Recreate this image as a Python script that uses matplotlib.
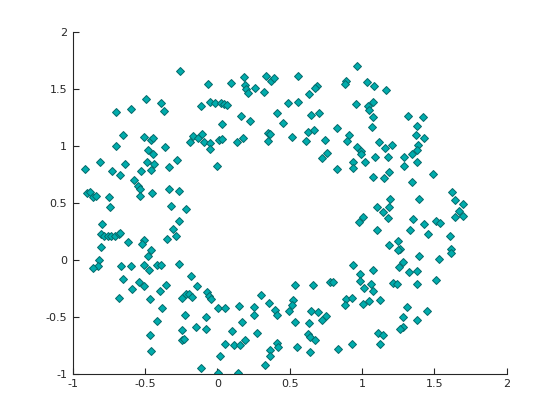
import matplotlib
matplotlib.use("Agg")
import matplotlib.pyplot as plt

# point cloud (ring of samples)
xs = [
    -0.257, -0.493, -0.390, -0.597, -0.701, -0.369, -0.652, -0.507, -0.461, -0.445,
    -0.701, -0.362, -0.480, -0.445, -0.811, -0.638, -0.489, -0.438, -0.281, -0.334,
    -0.917, -0.728, -0.527, -0.461, -0.673, -0.576, -0.549, -0.535, -0.452, -0.535,
    -0.334, -0.267, -0.901, -0.878, -0.860, -0.841, -0.749, -0.742, -0.323, -0.797,
    -0.267, -0.307, -0.286, -0.348, -0.806, -0.784, -0.760, -0.733, -0.705, -0.684,
    -0.675, -0.618, -0.507, -0.523, -0.804, -0.459, -0.480, -0.818, -0.829, -0.860,
    -0.666, -0.597, -0.507, -0.473, -0.417, -0.387, -0.267, -0.217, -0.184, -0.652,
    -0.542, -0.507, -0.590, -0.355, -0.399, -0.680, -0.466, -0.383, -0.417, -0.466,
    -0.459, -0.141, -0.242, -0.219, -0.196, -0.173, -0.072, -0.058, -0.044, 0.004,
    0.053, 0.149, 0.302, 0.357, 0.253, 0.398, 0.412, -0.224, -0.079, 0.253,
    0.170, -0.148, -0.079, -0.247, 0.101, 0.274, -0.242, -0.228, 0.053, 0.115,
    0.156, 0.191, 0.412, 0.419, 0.364, 0.362, 0.018, 0.329, -0.113, 0.004,
    0.143, -0.065, 0.094, 0.184, 0.336, 0.367, 0.394, 0.191, 0.198, 0.208,
    0.260, 0.325, -0.113, -0.051, -0.016, 0.025, 0.042, 0.069, 0.410, 0.163,
    0.226, 0.032, -0.193, -0.168, -0.134, -0.106, -0.092, -0.051, -0.051, 0.011,
    0.032, 0.136, 0.177, 0.350, 0.362, 0.350, -0.003, 0.965, 0.557, 0.689,
    0.671, 0.633, 0.889, 0.882, 1.034, 1.083, 0.488, 0.557, 0.958, 1.041,
    1.048, 1.076, 0.647, 0.702, 1.076, 0.454, 0.827, 1.069, 0.516, 0.626,
    0.668, 0.910, 0.896, 0.744, 0.613, 1.115, 0.965, 0.993, 0.993, 0.758,
    0.723, 1.089, 1.020, 0.937, 0.937, 0.827, 1.076, 1.106, 1.007, 0.979,
    1.101, 0.937, 0.984, 1.076, 0.537, 0.661, 0.776, 0.797, 0.986, 1.060,
    1.013, 1.076, 0.523, 0.516, 0.495, 0.889, 0.928, 0.880, 1.007, 1.048,
    1.122, 0.647, 0.698, 0.751, 0.726, 0.537, 0.633, 0.624, 0.638, 0.675,
    0.550, 0.640, 0.834, 0.931, 1.108, 1.143, 1.122, 1.214, 1.242, 1.380,
    1.511, 1.311, 1.449, 1.281, 1.380, 1.283, 1.262, 1.186, 1.152, 1.490,
    1.345, 1.622, 1.394, 1.193, 1.642, 1.698, 1.186, 1.145, 1.670, 1.698,
    1.642, 1.179, 1.352, 1.428, 1.511, 1.539, 1.331, 1.456, 1.608, 1.248,
    1.186, 1.262, 1.248, 1.615, 1.615, 1.394, 1.532, 1.283, 1.255, 1.325,
    1.380, 1.166, 1.318, 1.421, 1.380, 1.373, 1.428, 1.159, 1.207, 1.387,
    1.380, 1.345, 1.179, 1.290, 1.380, 1.290,
]
ys = [
    1.655, 1.411, 1.376, 1.324, 1.298, 1.306, 1.097, 1.079, 1.053, 1.064,
    1.000, 0.992, 0.959, 0.922, 0.852, 0.843, 0.854, 0.837, 0.872, 0.811,
    0.799, 0.780, 0.776, 0.790, 0.741, 0.697, 0.644, 0.624, 0.581, 0.557,
    0.616, 0.601, 0.581, 0.592, 0.551, 0.557, 0.546, 0.458, 0.469, 0.312,
    0.338, 0.266, 0.207, 0.178, 0.222, 0.210, 0.210, 0.210, 0.210, 0.222,
    0.236, 0.152, 0.169, 0.134, 0.113, 0.082, 0.030, -0.003, -0.053, -0.070,
    -0.058, -0.058, -0.049, -0.090, -0.049, -0.049, -0.042, 0.441, -0.143, -0.169,
    -0.195, -0.233, -0.259, -0.221, -0.277, -0.338, -0.347, -0.425, -0.539, -0.661,
    -0.801, -0.233, -0.333, -0.303, -0.303, -0.324, -0.285, -0.315, -0.341, -0.423,
    -0.423, -0.408, -0.312, -0.379, -0.417, -0.443, -0.484, -0.487, -0.504, -0.487,
    -0.548, -0.591, -0.609, -0.615, -0.626, -0.644, -0.705, -0.691, -0.740, -0.749,
    -0.749, -0.702, -0.731, -0.764, -0.793, -0.845, -0.845, -0.924, -0.950, -0.994,
    -0.994, 1.543, 1.551, 1.598, 1.606, 1.565, 1.589, 1.528, 1.493, 1.460,
    1.508, 1.473, 1.350, 1.385, 1.376, 1.376, 1.368, 1.359, 1.289, 1.263,
    1.219, 1.193, 1.029, 1.088, 1.070, 1.099, 1.029, 1.020, 0.974, 1.053,
    1.062, 1.035, 1.070, 1.114, 1.105, 1.044, 0.817, 1.700, 1.606, 1.522,
    1.508, 1.455, 1.563, 1.536, 1.560, 1.519, 1.376, 1.385, 1.368, 1.344,
    1.315, 1.385, 1.271, 1.289, 1.254, 1.201, 1.158, 1.166, 1.079, 1.123,
    1.140, 1.097, 1.044, 1.053, 1.044, 1.029, 0.992, 0.950, 0.922, 0.939,
    0.887, 0.904, 0.852, 0.854, 0.802, 0.793, 0.729, 0.458, 0.373, 0.327,
    0.257, -0.049, -0.125, -0.093, -0.224, -0.224, -0.198, -0.195, -0.187, -0.215,
    -0.250, -0.274, -0.355, -0.399, -0.449, -0.347, -0.338, -0.399, -0.390, -0.364,
    -0.355, -0.449, -0.460, -0.495, -0.530, -0.548, -0.556, -0.653, -0.679, -0.705,
    -0.766, -0.810, -0.784, -0.740, -0.644, -0.661, -0.740, -0.204, -0.213, -0.215,
    -0.180, -0.417, -0.449, -0.504, -0.530, -0.591, -0.604, 0.767, 0.712, 0.747,
    0.677, 0.589, 0.528, 0.528, 0.519, 0.484, 0.458, 0.414, 0.423, 0.379,
    0.371, 0.362, 0.353, 0.309, 0.336, 0.318, 0.257, 0.222, 0.204, 0.161,
    0.126, 0.091, 0.082, 0.091, 0.056, 0.030, 0.003, -0.023, -0.067, -0.105,
    -0.096, 1.490, 1.263, 1.254, 1.175, 1.097, 1.070, 0.983, 1.009, 1.009,
    0.965, 0.930, 0.904, 0.904, 0.852, 0.825,
]

x_ticks = [-1, -0.5, 0, 0.5, 1, 1.5, 2]
y_ticks = [-1, -0.5, 0, 0.5, 1, 1.5, 2]

fig = plt.figure(figsize=(5.6, 4.2), dpi=100)
ax = fig.add_axes([0.13, 0.11, 0.775, 0.815])

ax.plot(xs, ys, linestyle="none", marker="D", markersize=4.3,
        markerfacecolor="#00acac", markeredgecolor="#05696a", markeredgewidth=0.7)

ax.set_xlim(-1, 2)
ax.set_ylim(-1, 2)
ax.set_xticks(x_ticks)
ax.set_yticks(y_ticks)
ax.set_xticklabels([f"{t:g}" for t in x_ticks])
ax.set_yticklabels([f"{t:g}" for t in y_ticks])

for side in ["top", "right"]:
    ax.spines[side].set_visible(False)
for side in ["left", "bottom"]:
    ax.spines[side].set_color("#262626")
    ax.spines[side].set_linewidth(0.8)
ax.tick_params(direction="in", length=4, width=0.8, colors="#262626",
               labelsize=8, pad=4)

fig.savefig("out.png", dpi=100)
